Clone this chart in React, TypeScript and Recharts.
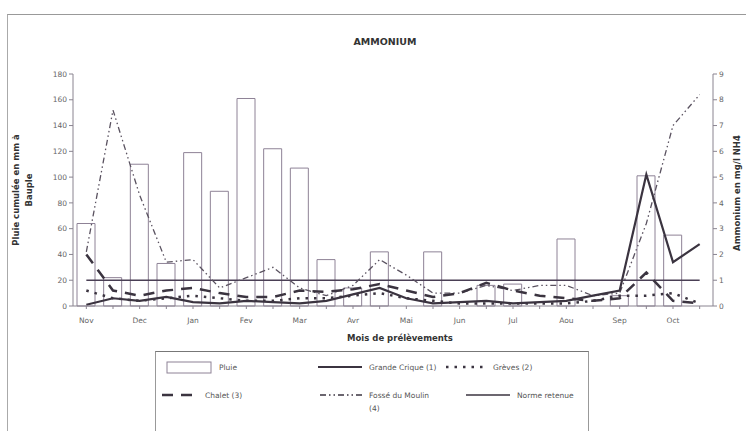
import React from 'react';
import { ComposedChart, Bar, Line, XAxis, YAxis } from 'recharts';

// two samples per month, Nov -> Oct
const months = ['Nov', 'Dec', 'Jan', 'Fev', 'Mar', 'Avr', 'Mai', 'Jun', 'Jul', 'Aou', 'Sep', 'Oct'];
const periods = months.flatMap((m) => [m, m + ' (2)']);

// rain in mm (left axis)
const pluie = [64, 22, 110, 33, 119, 89, 161, 122, 107, 36, 14, 42, null, 42, null, 16, 17, null, 52, null, 8, 101, 55, null];

// ammonium mg/l NH4 (right axis)
const grandeCrique = [0.05, 0.3, 0.2, 0.35, 0.15, 0.1, 0.2, 0.15, 0.1, 0.2, 0.45, 0.7, 0.3, 0.1, 0.15, 0.2, 0.1, 0.15, 0.2, 0.4, 0.6, 5.1, 1.7, 2.4];
const greves = [0.6, 0.3, 0.2, 0.3, 0.4, 0.3, 0.2, 0.2, 0.3, 0.3, 0.4, 0.5, 0.3, 0.2, 0.1, 0.1, 0.1, 0.1, 0.1, 0.2, 0.4, 0.4, 0.5, 0.1];
const chalet = [2.0, 0.6, 0.4, 0.6, 0.7, 0.5, 0.35, 0.35, 0.6, 0.55, 0.65, 0.85, 0.6, 0.35, 0.5, 0.9, 0.6, 0.4, 0.3, 0.2, 0.3, 1.3, 0.2, 0.1];
const fosse = [2.1, 7.6, 4.3, 1.7, 1.8, 0.7, 1.1, 1.5, 0.7, 0.4, 0.8, 1.8, 1.2, 0.5, 0.5, 0.8, 0.6, 0.8, 0.8, 0.4, 0.5, 3.2, 7.0, 8.2];
const norme = [1, 1, 1, 1, 1, 1, 1, 1, 1, 1, 1, 1, 1, 1, 1, 1, 1, 1, 1, 1, 1, 1, 1, 1];

const leftTicks = [0, 20, 40, 60, 80, 100, 120, 140, 160, 180];
const rightTicks = [0, 1, 2, 3, 4, 5, 6, 7, 8, 9];

const data = periods.map((p, i) => ({
  period: p,
  pluie: pluie[i],
  grandeCrique: grandeCrique[i],
  greves: greves[i],
  chalet: chalet[i],
  fosse: fosse[i],
  norme: norme[i],
}));

const FONT = '"DejaVu Sans", sans-serif';
const INK = '#3b3440';
const AXIS = '#8a8490';

const MonthTick = (props: any) => {
  const { x, y, payload } = props;
  const label = String(payload.value);
  if (label.includes('(2)')) return null;
  return (
    <text x={x} y={y + 12} textAnchor="middle" fontSize={7.5} fill="#666" fontFamily={FONT}>
      {label}
    </text>
  );
};

const swatch = (kind: string, w: number) => {
  if (kind === 'bar') return <rect x={1} y={1} width={w - 2} height={11} fill="#fff" stroke="#8e8296" strokeWidth={1} />;
  const styles: Record<string, any> = {
    solid: { strokeWidth: 2, dash: undefined },
    dots: { strokeWidth: 2.5, dash: '2.5 6' },
    dash: { strokeWidth: 2.5, dash: '11 8' },
    dashdot: { strokeWidth: 1.3, dash: '6 3 1.5 3 1.5 3' },
    norme: { strokeWidth: 1.5, dash: undefined },
  };
  const s = styles[kind];
  return <line x1={0} y1={6} x2={w} y2={6} stroke={INK} strokeWidth={s.strokeWidth} strokeDasharray={s.dash} />;
};

const legendItems = [
  { label: 'Pluie', kind: 'bar', x: 166, y: 361, w: 46 },
  { label: 'Grande Crique (1)', kind: 'solid', x: 318, y: 361, w: 44 },
  { label: 'Grèves (2)', kind: 'dots', x: 446, y: 361, w: 40 },
  { label: 'Chalet (3)', kind: 'dash', x: 162, y: 389, w: 36 },
  { label: 'Fossé du Moulin (4)', kind: 'dashdot', x: 320, y: 389, w: 42 },
  { label: 'Norme retenue', kind: 'norme', x: 466, y: 389, w: 44 },
];

export default function App() {
  return (
    <div style={{ position: 'absolute', left: 0, top: 0, width: 746, height: 431, background: '#fff', overflow: 'hidden', fontFamily: FONT }}>
      {/* scanned page frame */}
      <div style={{ position: 'absolute', left: 7, top: 14, width: 760, height: 440, borderLeft: '1px solid #aaa', borderTop: '1px solid #999' }} />

      <div style={{ position: 'absolute', left: 0, top: 36, width: 770, textAlign: 'center', fontSize: 9.5, fontWeight: 'bold', color: '#333' }}>
        AMMONIUM
      </div>

      <ComposedChart
        width={746}
        height={431}
        data={data}
        margin={{ top: 74, right: 0, left: 33, bottom: 95 }}
        style={{ position: 'absolute', left: 0, top: 0 }}
      >
        <XAxis
          dataKey="period"
          interval={0}
          tick={<MonthTick />}
          tickSize={3}
          stroke={AXIS}
          height={30}
        />
        <YAxis
          yAxisId="left"
          width={40}
          domain={[0, 180]}
          ticks={leftTicks}
          tickSize={4}
          stroke={AXIS}
          tick={{ fontSize: 7.5, fill: '#666', fontFamily: FONT }}
        />
        <YAxis
          yAxisId="right"
          orientation="right"
          width={33}
          domain={[0, 9]}
          ticks={rightTicks}
          tickSize={4}
          stroke={AXIS}
          tick={{ fontSize: 7.5, fill: '#666', fontFamily: FONT }}
        />
        <Bar yAxisId="left" dataKey="pluie" barSize={18} fill="#fff" stroke="#8e8296" strokeWidth={1} isAnimationActive={false} />
        <Line yAxisId="right" dataKey="norme" stroke="#4a3f55" strokeWidth={1.5} dot={false} isAnimationActive={false} />
        <Line yAxisId="right" dataKey="fosse" stroke="#5a5260" strokeWidth={1.3} strokeDasharray="6 3 1.5 3 1.5 3" dot={false} isAnimationActive={false} />
        <Line yAxisId="right" dataKey="greves" stroke={INK} strokeWidth={2.5} strokeDasharray="2.5 6" dot={false} isAnimationActive={false} />
        <Line yAxisId="right" dataKey="chalet" stroke={INK} strokeWidth={2.5} strokeDasharray="11 8" dot={false} isAnimationActive={false} />
        <Line yAxisId="right" dataKey="grandeCrique" stroke={INK} strokeWidth={2.2} dot={false} isAnimationActive={false} />
      </ComposedChart>

      {/* axis titles */}
      <div style={{ position: 'absolute', left: 23, top: 190, transform: 'translate(-50%, -50%) rotate(-90deg)', whiteSpace: 'nowrap', textAlign: 'center', fontSize: 8.5, fontWeight: 'bold', color: '#333', lineHeight: '13px' }}>
        Pluie cumulée en mm à<br />Bauple
      </div>
      <div style={{ position: 'absolute', left: 737, top: 193, transform: 'translate(-50%, -50%) rotate(-90deg)', whiteSpace: 'nowrap', fontSize: 8.5, fontWeight: 'bold', color: '#333' }}>
        Ammonium en mg/l NH4
      </div>
      <div style={{ position: 'absolute', left: 400, top: 338, transform: 'translate(-50%, -50%)', whiteSpace: 'nowrap', fontSize: 8.5, fontWeight: 'bold', color: '#333' }}>
        Mois de prélèvements
      </div>

      {/* legend box */}
      <div style={{ position: 'absolute', left: 155, top: 351, width: 432, height: 100, borderTop: '1px solid #777', borderLeft: '1px solid #999', borderRight: '1px solid #999' }} />
      {legendItems.map((it) => (
        <div key={it.label} style={{ position: 'absolute', left: it.x, top: it.y, display: 'flex', alignItems: 'flex-start', fontSize: 7.5, color: '#555' }}>
          <svg width={it.w + 2} height={14} style={{ flex: 'none' }}>{swatch(it.kind, it.w)}</svg>
          <span style={{ marginLeft: 5, width: it.kind === 'dashdot' ? 68 : undefined, lineHeight: '13px', whiteSpace: it.kind === 'dashdot' ? 'normal' : 'nowrap' }}>{it.label}</span>
        </div>
      ))}
    </div>
  );
}
